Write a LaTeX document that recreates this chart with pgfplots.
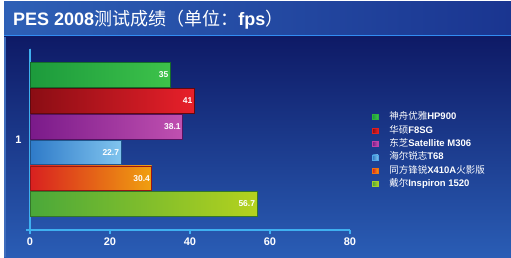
\documentclass[border=0pt]{standalone}
\usepackage{pgfplots}
\pgfplotsset{compat=1.18}
\usepackage{fontspec}
\setmainfont{Liberation Sans}
\newfontfamily\cjk{Noto Sans CJK SC}
\definecolor{gAl}{HTML}{1C9A3C}\definecolor{gAr}{HTML}{3DC24A}
\definecolor{rBl}{HTML}{8A0D14}\definecolor{rBr}{HTML}{E8202A}
\definecolor{mCl}{HTML}{7A1A8A}\definecolor{mCr}{HTML}{C050B0}
\definecolor{bDl}{HTML}{2E7AC8}\definecolor{bDr}{HTML}{80C4EE}
\definecolor{oEl}{HTML}{D82020}\definecolor{oEr}{HTML}{F0A010}
\definecolor{yFl}{HTML}{4AA83A}\definecolor{yFr}{HTML}{B4D21E}
\definecolor{lgA}{HTML}{2CB43C}\definecolor{lgB}{HTML}{E02020}
\definecolor{lgC}{HTML}{C040A8}\definecolor{lgD}{HTML}{50A8E8}
\definecolor{lgE}{HTML}{F07010}\definecolor{lgF}{HTML}{A0D030}
\definecolor{axc}{HTML}{3FB0F0}
\definecolor{ttl}{HTML}{2E60B6}\definecolor{ttr}{HTML}{1A3590}
\definecolor{pnt}{HTML}{0E1A66}\definecolor{pnb}{HTML}{2A5DB5}
\begin{document}
\begin{tikzpicture}[x=1pt,y=1pt]
\fill[white] (0,0) rectangle (511,257);
\shade[left color=ttl, right color=ttr] (4,222) rectangle (511,255);
\fill[axc!80!blue] (4,220) rectangle (511,222);
\shade[top color=pnt, bottom color=pnb] (4,0) rectangle (511,220);
\fill[pnb!90!white] (4,0) rectangle (6,220);
\node[anchor=west, text=white, inner sep=0pt, font=\fontsize{18}{21}\selectfont\bfseries] at (13,237) {PES 2008{\cjk\mdseries 测试成绩（单位：}fps{\cjk\mdseries ）}};
\begin{axis}[
  at={(30pt,27pt)}, anchor=south west,
  x=4pt, y=172pt,
  xmin=0, xmax=80, ymin=0.474, ymax=1.527,
  axis lines=left, separate axis lines,
  x axis line style={draw=axc, line width=1.5pt, -, shorten <=-4pt},
  y axis line style={draw=axc, line width=1.5pt, -, shorten <=-3pt},
  xtick style={draw=axc, line width=1.2pt},
  ytick style={draw=none},
  tick align=outside,
  major tick length=4pt,
  xtick={0,20,40,60,80},
  ytick={1}, yticklabels={1},
  /pgf/number format/assume math mode=true,
  tick label style={text=white, font=\fontsize{11}{13}\selectfont\bfseries},
  yticklabel style={xshift=-1pt},
  xbar, bar width=0.143,
  nodes near coords,
  every node near coord/.append style={anchor=east, text=white, font=\fontsize{8.5}{10}\selectfont\bfseries, inner sep=1.5pt},
  legend style={at={(axis description cs:1.069,0.657)}, anchor=north west, draw=none, fill=none, inner sep=0pt,
    text=white, font=\fontsize{9.5}{11}\selectfont\bfseries, row sep=1.4pt, column sep=10pt,
    nodes={text height=7.5pt, text depth=2.5pt, inner sep=1pt}},
  legend cell align=left,
]
\draw[axc, line width=1.5pt] (rel axis cs:0,1) -- ++(-3.5pt,0);
\addplot[bar shift=0.375, left color=gAl, right color=gAr, draw=gAl!70!black, line width=0.5pt,
  legend image code/.code={\fill[lgA] (0pt,-2.5pt) rectangle (5.5pt,2.5pt);}] coordinates {(35,1)};
\addlegendentry{{\cjk\mdseries 神舟优雅}HP900}
\addplot[bar shift=0.225, left color=rBl, right color=rBr, draw=rBl!70!black, line width=0.5pt,
  legend image code/.code={\fill[lgB] (0pt,-2.5pt) rectangle (5.5pt,2.5pt);}] coordinates {(41,1)};
\addlegendentry{{\cjk\mdseries 华硕}F8SG}
\addplot[bar shift=0.075, left color=mCl, right color=mCr, draw=mCl!70!black, line width=0.5pt,
  legend image code/.code={\fill[lgC] (0pt,-2.5pt) rectangle (5.5pt,2.5pt);}] coordinates {(38.1,1)};
\addlegendentry{{\cjk\mdseries 东芝}Satellite M306}
\addplot[bar shift=-0.075, left color=bDl, right color=bDr, draw=bDl!70!black, line width=0.5pt,
  legend image code/.code={\fill[lgD] (0pt,-2.5pt) rectangle (5.5pt,2.5pt);}] coordinates {(22.7,1)};
\addlegendentry{{\cjk\mdseries 海尔锐志}T68}
\addplot[bar shift=-0.225, left color=oEl, right color=oEr, draw=oEl!70!black, line width=0.5pt,
  legend image code/.code={\fill[lgE] (0pt,-2.5pt) rectangle (5.5pt,2.5pt);}] coordinates {(30.4,1)};
\addlegendentry{{\cjk\mdseries 同方锋锐}X410A{\cjk\mdseries 火影版}}
\addplot[bar shift=-0.375, left color=yFl, right color=yFr, draw=yFl!70!black, line width=0.5pt,
  legend image code/.code={\fill[lgF] (0pt,-2.5pt) rectangle (5.5pt,2.5pt);}] coordinates {(56.7,1)};
\addlegendentry{{\cjk\mdseries 戴尔}Inspiron 1520}
\end{axis}
\end{tikzpicture}
\end{document}
